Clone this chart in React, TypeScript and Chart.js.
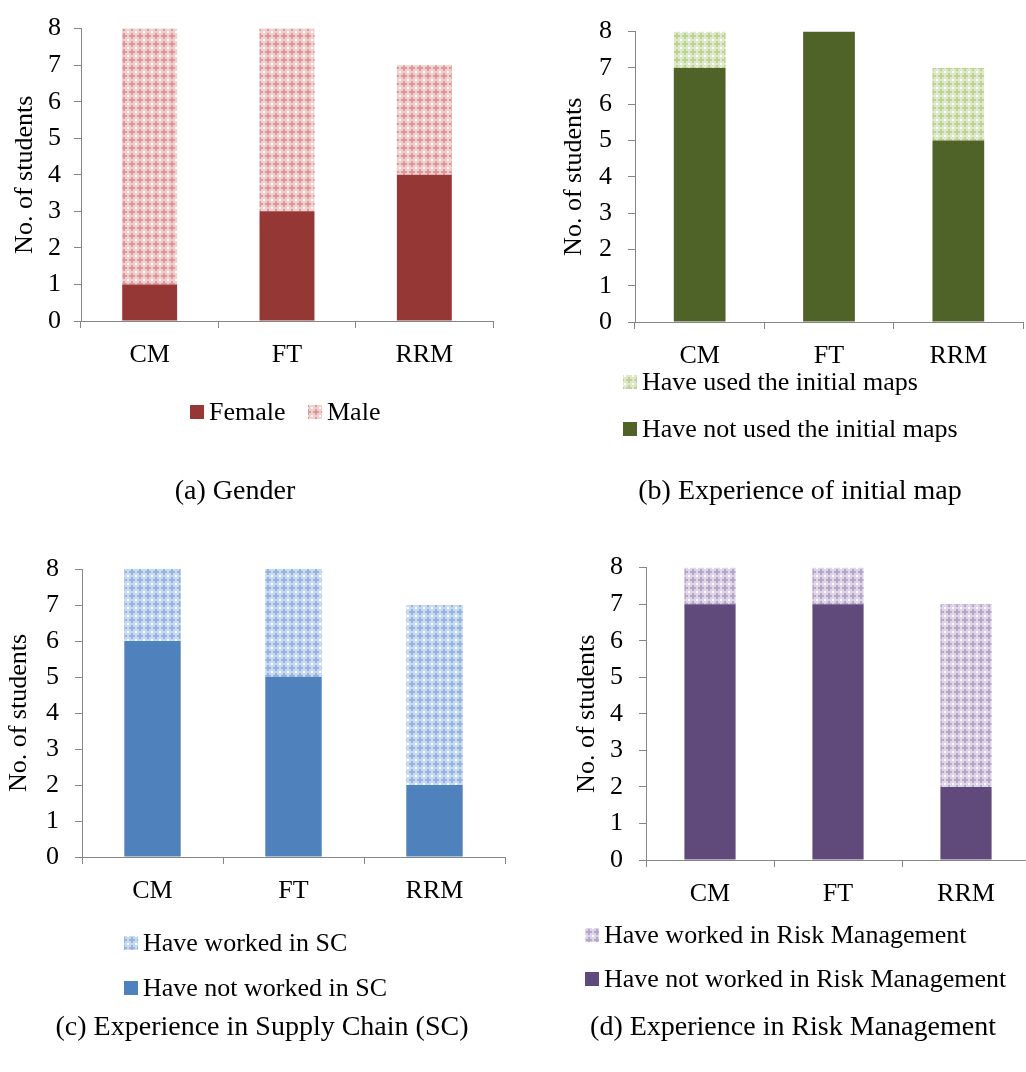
import React, { useEffect, useRef } from "react";
import { Chart, registerables } from "chart.js";

Chart.register(...registerables);

// ---------- data ----------
const categories = ["CM", "FT", "RRM"];
const yAxisTitle = "No. of students";

const femaleValues = [1, 3, 4];
const maleValues = [7, 5, 3];

const notUsedMapsValues = [7, 8, 5];
const usedMapsValues = [1, 0, 2];

const notWorkedSCValues = [6, 5, 2];
const workedSCValues = [2, 3, 5];

const notWorkedRMValues = [7, 7, 2];
const workedRMValues = [1, 1, 5];

const captions = [
  "(a) Gender",
  "(b) Experience of initial map",
  "(c) Experience in Supply Chain (SC)",
  "(d) Experience in Risk Management",
];

// ---------- styles ----------
const FONT = '"Liberation Serif", "Times New Roman", serif';
const AXIS = "#868686";

type Pal = { dark: string; base: string; mid: string };

function makePattern(ctx: CanvasRenderingContext2D, p: Pal) {
  const c = document.createElement("canvas");
  c.width = 8;
  c.height = 8;
  const g = c.getContext("2d")!;
  g.fillStyle = p.base;
  g.fillRect(0, 0, 8, 8);
  g.fillStyle = p.mid;
  g.fillRect(3, 1, 2, 6);
  g.fillRect(1, 3, 6, 2);
  g.fillStyle = "#ffffff";
  g.fillRect(0, 0, 1, 1);
  g.fillRect(7, 0, 1, 1);
  g.fillRect(0, 7, 1, 1);
  g.fillRect(7, 7, 1, 1);
  return ctx.createPattern(c, "repeat")!;
}

type Spec = {
  left: number; top: number; w: number; h: number;
  area: { l: number; r: number; t: number; b: number };
  titlePad: number;
  yTickPad: number;
  xTickPad: number;
  solidLabel: string;
  patLabel: string;
  solid: number[];
  pat: number[];
  solidColor: string;
  pal: Pal;
  legend: { kind: "row" | "col"; x: number; y: number; x2?: number; y2?: number };
  caption: string;
  capX: number;
  capY: number;
};

const specs: Spec[] = [
  {
    left: 0, top: 0, w: 540, h: 536,
    area: { l: 81, r: 493, t: 20, b: 321 },
    titlePad: 10, yTickPad: 13, xTickPad: 12,
    solidLabel: "Female", patLabel: "Male",
    solid: femaleValues, pat: maleValues,
    solidColor: "#953735",
    pal: { dark: "#953735", base: "#F0CFCE", mid: "#DC9896" },
    legend: { kind: "row", x: 190, y: 412, x2: 308 },
    caption: captions[0], capX: 235, capY: 492,
  },
  {
    left: 513, top: 0, w: 540, h: 536,
    area: { l: 635, r: 1023, t: 24, b: 322 },
    titlePad: 46, yTickPad: 16, xTickPad: 12,
    solidLabel: "Have not used the initial maps", patLabel: "Have used the initial maps",
    solid: notUsedMapsValues, pat: usedMapsValues,
    solidColor: "#4F6228",
    pal: { dark: "#4F6228", base: "#DEE9C9", mid: "#BDD293" },
    legend: { kind: "col", x: 623, y: 382, y2: 429 },
    caption: captions[1], capX: 800, capY: 492,
  },
  {
    left: 0, top: 536, w: 540, h: 536,
    area: { l: 82, r: 505, t: 569, b: 857 },
    titlePad: 4, yTickPad: 16, xTickPad: 12,
    solidLabel: "Have not worked in SC", patLabel: "Have worked in SC",
    solid: notWorkedSCValues, pat: workedSCValues,
    solidColor: "#4F81BD",
    pal: { dark: "#4F81BD", base: "#C9DAF0", mid: "#93B4DF" },
    legend: { kind: "col", x: 124, y: 943, y2: 988 },
    caption: captions[2], capX: 262, capY: 1028,
  },
  {
    left: 513, top: 536, w: 540, h: 536,
    area: { l: 646, r: 1030, t: 563, b: 860 },
    titlePad: 59, yTickPad: 16, xTickPad: 12,
    solidLabel: "Have not worked in Risk Management", patLabel: "Have worked in Risk Management",
    solid: notWorkedRMValues, pat: workedRMValues,
    solidColor: "#604A7B",
    pal: { dark: "#604A7B", base: "#DED6E8", mid: "#B6A6CA" },
    legend: { kind: "col", x: 585, y: 935, y2: 979 },
    caption: captions[3], capX: 793, capY: 1028,
  },
];

const X_AXIS_H = 60;

function StackedChart({ spec }: { spec: Spec }) {
  const ref = useRef<HTMLCanvasElement>(null);

  useEffect(() => {
    const canvas = ref.current!;
    const ctx = canvas.getContext("2d")!;
    const pattern = makePattern(ctx, spec.pal);
    const ox = spec.left;
    const oy = spec.top;
    const a = {
      l: spec.area.l - ox,
      r: spec.area.r - ox,
      t: spec.area.t - oy,
      b: spec.area.b - oy,
    };

    const overlay = {
      id: "overlay",
      afterDraw(chart: any) {
        const c: CanvasRenderingContext2D = chart.ctx;
        c.save();
        c.textBaseline = "middle";
        c.textAlign = "left";
        c.fillStyle = "#000";
        c.font = `26px ${FONT}`;
        const sq = 14;
        const L = spec.legend;
        const drawItem = (x: number, y: number, fill: any, label: string) => {
          c.fillStyle = fill;
          c.fillRect(x - ox, y - oy - sq / 2, sq, sq);
          c.fillStyle = "#000";
          c.fillText(label, x - ox + sq + 5, y - oy + 1);
        };
        if (L.kind === "row") {
          drawItem(L.x, L.y, spec.solidColor, spec.solidLabel);
          drawItem(L.x2!, L.y, pattern, spec.patLabel);
        } else {
          drawItem(L.x, L.y, pattern, spec.patLabel);
          drawItem(L.x, L.y2!, spec.solidColor, spec.solidLabel);
        }
        c.font = `28px ${FONT}`;
        c.textAlign = "center";
        c.fillStyle = "#000";
        c.fillText(spec.caption, spec.capX - ox, spec.capY - oy);
        c.restore();
      },
    };

    const chart = new Chart(ctx, {
      type: "bar",
      data: {
        labels: categories,
        datasets: [
          {
            label: spec.solidLabel,
            data: spec.solid,
            backgroundColor: spec.solidColor,
            borderWidth: 0,
            barPercentage: 0.4,
            categoryPercentage: 1,
          },
          {
            label: spec.patLabel,
            data: spec.pat,
            backgroundColor: pattern as any,
            borderWidth: 0,
            barPercentage: 0.4,
            categoryPercentage: 1,
          },
        ],
      },
      options: {
        responsive: false,
        animation: false,
        devicePixelRatio: 1,
        layout: {
          padding: {
            left: 0,
            top: a.t,
            right: spec.w - a.r,
            bottom: spec.h - a.b - X_AXIS_H,
          },
        },
        plugins: {
          legend: { display: false },
          tooltip: { enabled: false },
          title: { display: false },
        },
        scales: {
          x: {
            stacked: true,
            offset: true,
            grid: {
              offset: true,
              drawOnChartArea: false,
              drawTicks: true,
              tickLength: 7,
              color: AXIS,
              lineWidth: 1,
            },
            border: { display: true, color: AXIS, width: 1 },
            ticks: {
              color: "#000",
              font: { family: FONT, size: 26 },
              padding: spec.xTickPad,
              maxRotation: 0,
              autoSkip: false,
            },
            afterFit: (s: any) => {
              s.height = X_AXIS_H;
            },
          },
          y: {
            stacked: true,
            min: 0,
            max: 8,
            grid: {
              drawOnChartArea: false,
              drawTicks: true,
              tickLength: 7,
              color: AXIS,
              lineWidth: 1,
            },
            border: { display: true, color: AXIS, width: 1 },
            ticks: {
              stepSize: 1,
              color: "#000",
              font: { family: FONT, size: 26 },
              padding: spec.yTickPad,
            },
            title: {
              display: true,
              text: yAxisTitle,
              color: "#000",
              font: { family: FONT, size: 26 },
              padding: { top: spec.titlePad, bottom: 0 },
            },
            afterFit: (s: any) => {
              s.width = a.l;
            },
          },
        },
      },
      plugins: [overlay],
    });
    return () => chart.destroy();
  }, [spec]);

  return (
    <canvas
      ref={ref}
      width={spec.w}
      height={spec.h}
      style={{
        position: "absolute",
        left: spec.left,
        top: spec.top,
        width: spec.w,
        height: spec.h,
      }}
    />
  );
}

export default function App() {
  return (
    <div
      style={{
        position: "absolute",
        left: 0,
        top: 0,
        width: 1026,
        height: 1072,
        overflow: "hidden",
        background: "#ffffff",
      }}
    >
      {specs.map((s, i) => (
        <StackedChart key={i} spec={s} />
      ))}
    </div>
  );
}
